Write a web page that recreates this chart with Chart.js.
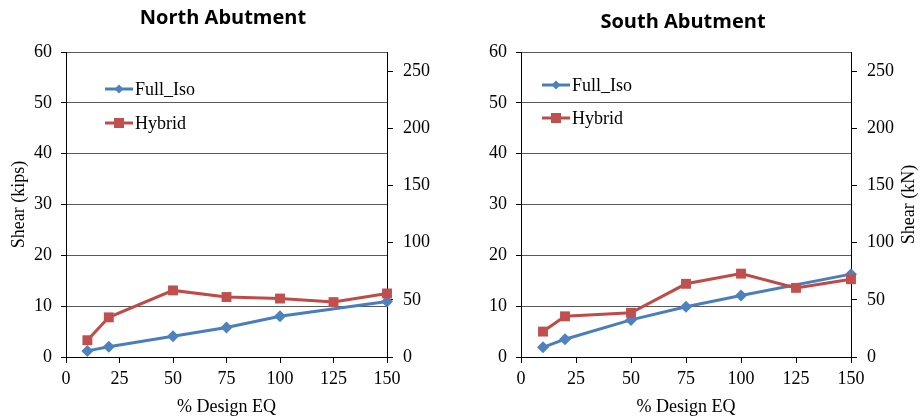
<!DOCTYPE html>
<html>
<head>
<meta charset="utf-8">
<script src="https://cdn.jsdelivr.net/npm/chart.js@4.4.1/dist/chart.umd.min.js"></script>
<style>
  html, body { margin: 0; padding: 0; background: #fff; }
  body { width: 920px; height: 418px; position: relative; overflow: hidden; }
  .box { position: absolute; top: 0; height: 418px; }
  #northBox { left: 0; width: 446px; }
  #southBox { left: 446px; width: 474px; }
</style>
</head>
<body>
<div class="box" id="northBox"><canvas id="northChart"></canvas></div>
<div class="box" id="southBox"><canvas id="southChart"></canvas></div>
<script>
// data (shear in kips)
const fullIsoEq = [10, 20, 50, 75, 100, 150];
const hybridEq = [10, 20, 50, 75, 100, 125, 150];

const northFullIso = [1.2, 2.0, 4.1, 5.8, 8.0, 10.9];
const northHybrid = [3.3, 7.8, 13.1, 11.8, 11.5, 10.8, 12.5];

const southFullIso = [1.9, 3.5, 7.3, 9.9, 12.1, 16.3];
const southHybrid = [5.0, 8.0, 8.7, 14.4, 16.4, 13.6, 15.3];

const seriesNames = ["Full_Iso", "Hybrid"];
const xTicks = [0, 25, 50, 75, 100, 125, 150];
const kipsToKn = 4.448;

const serif = "'Liberation Serif', 'Times New Roman', serif";
const blue = "#4A7EBB";
const red = "#BE4B48";

function toPoints(xs, ys) {
    return xs.map((x, i) => ({ x: x, y: ys[i] }));
}

// legend drawn inside the plot area, like the Excel original
const insideLegend = {
    id: "insideLegend",
    afterDraw(chart, args, opts) {
        const ctx = chart.ctx;
        const area = chart.chartArea;
        ctx.save();
        chart.data.datasets.forEach((ds, i) => {
            const x0 = area.left + opts.left;
            const y = area.top + opts.top + i * opts.gap;
            ctx.strokeStyle = ds.borderColor;
            ctx.lineWidth = 3;
            ctx.beginPath();
            ctx.moveTo(x0, y);
            ctx.lineTo(x0 + 28, y);
            ctx.stroke();
            ctx.fillStyle = ds.pointBackgroundColor;
            const cx = x0 + 14;
            if (ds.pointStyle === "rectRot") {
                ctx.beginPath();
                ctx.moveTo(cx, y - 4.5);
                ctx.lineTo(cx + 4.5, y);
                ctx.lineTo(cx, y + 4.5);
                ctx.lineTo(cx - 4.5, y);
                ctx.closePath();
                ctx.fill();
            } else {
                ctx.fillRect(cx - 5, y - 5, 10, 10);
            }
            ctx.fillStyle = "#000";
            ctx.font = "18px " + serif;
            ctx.textBaseline = "middle";
            ctx.textAlign = "left";
            ctx.fillText(ds.label, x0 + 30, y + 1);
        });
        ctx.restore();
    }
};

// right axis title reads bottom to top
const rightTitle = {
    id: "rightTitle",
    afterDraw(chart, args, opts) {
        if (!opts.text) return;
        const ctx = chart.ctx;
        const area = chart.chartArea;
        ctx.save();
        ctx.translate(chart.width - opts.offset, (area.top + area.bottom) / 2);
        ctx.rotate(-Math.PI / 2);
        ctx.fillStyle = "#000";
        ctx.font = "18px " + serif;
        ctx.textAlign = "center";
        ctx.textBaseline = "middle";
        ctx.fillText(opts.text, 0, 0);
        ctx.restore();
    }
};

function makeChart(id, cfg) {
    const ctx = document.getElementById(id).getContext("2d");
    return new Chart(ctx, {
        type: "line",
        data: {
            datasets: [{
                label: seriesNames[0],
                data: toPoints(fullIsoEq, cfg.fullIso),
                borderColor: blue,
                backgroundColor: blue,
                pointBackgroundColor: "#4F81BD",
                pointBorderWidth: 0,
                pointStyle: "rectRot",
                pointRadius: 6,
                borderWidth: 3,
                fill: false,
                clip: false,
                order: 2
            }, {
                label: seriesNames[1],
                data: toPoints(hybridEq, cfg.hybrid),
                borderColor: red,
                backgroundColor: red,
                pointBackgroundColor: "#C0504D",
                pointBorderWidth: 0,
                pointStyle: "rect",
                pointRadius: 7,
                borderWidth: 3,
                fill: false,
                clip: false,
                order: 1
            }]
        },
        options: {
            responsive: true,
            maintainAspectRatio: false,
            animation: false,
            layout: { padding: 0 },
            scales: {
                x: {
                    type: "linear",
                    min: 0,
                    max: 150,
                    afterBuildTicks: s => { s.ticks = xTicks.map(v => ({ value: v })); },
                    afterFit: s => { s.height = 61; },
                    grid: { drawOnChartArea: false, drawTicks: true, tickLength: 6, color: "#000" },
                    border: { color: "#000", width: 1 },
                    ticks: { color: "#000", font: { family: serif, size: 18 }, padding: 5, maxRotation: 0 },
                    title: { display: true, text: "% Design EQ", color: "#000", font: { family: serif, size: 18 }, padding: { top: 0, bottom: 0 } }
                },
                y: {
                    position: "left",
                    min: 0,
                    max: 60,
                    afterFit: s => { s.width = cfg.leftWidth; },
                    grid: { color: "#595959", tickColor: "#000", tickLength: 5 },
                    border: { color: "#000", width: 1 },
                    ticks: { stepSize: 10, color: "#000", font: { family: serif, size: 18 }, padding: 9 },
                    title: { display: !!cfg.leftTitle, text: cfg.leftTitle || "", color: "#000", font: { family: serif, size: 18 }, padding: { top: 8, bottom: 0 } }
                },
                y2: {
                    position: "right",
                    min: 0,
                    max: 60 * kipsToKn,
                    afterFit: s => { s.width = cfg.rightWidth; },
                    grid: { drawOnChartArea: false, color: "#000", tickLength: 6 },
                    border: { color: "#000", width: 1 },
                    ticks: { stepSize: 50, includeBounds: false, color: "#000", font: { family: serif, size: 18 }, padding: 10 }
                }
            },
            plugins: {
                legend: { display: false },
                tooltip: { enabled: false },
                title: {
                    display: true,
                    text: cfg.title,
                    color: "#000",
                    font: { family: "'Open Sans', 'Noto Sans', sans-serif", size: 20, weight: "bold" },
                    padding: { top: cfg.titleTop, bottom: 52 - cfg.titleTop - 24 }
                },
                insideLegend: cfg.legend,
                rightTitle: { text: cfg.rightTitle, offset: 10.5 }
            }
        },
        plugins: [insideLegend, rightTitle]
    });
}

makeChart("northChart", {
    title: "North Abutment",
    fullIso: northFullIso,
    hybrid: northHybrid,
    leftWidth: 66,
    rightWidth: 59,
    titleTop: 6,
    leftTitle: "Shear (kips)",
    rightTitle: "",
    legend: { left: 39, top: 37, gap: 34 }
});

makeChart("southChart", {
    title: "South Abutment",
    fullIso: southFullIso,
    hybrid: southHybrid,
    leftWidth: 75,
    rightWidth: 69,
    titleTop: 10,
    leftTitle: "",
    rightTitle: "Shear (kN)",
    legend: { left: 21, top: 33, gap: 33 }
});
</script>
</body>
</html>
